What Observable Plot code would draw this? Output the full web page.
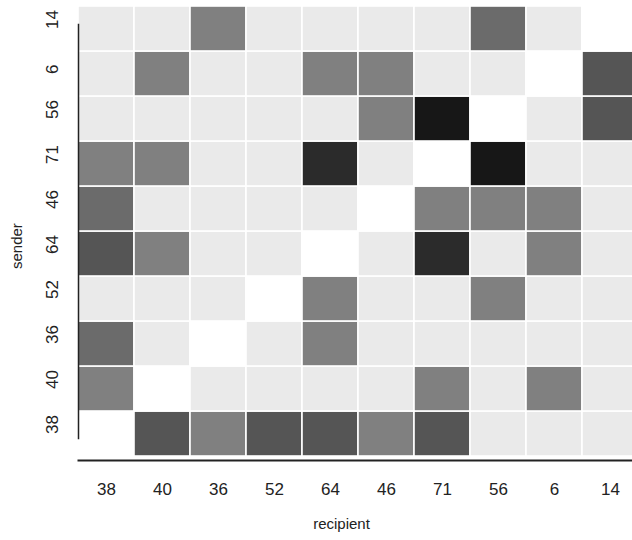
<!DOCTYPE html>
<html><head><meta charset="utf-8">
<script src="https://cdn.jsdelivr.net/npm/d3@7"></script>
<script src="https://cdn.jsdelivr.net/npm/@observablehq/plot@0.6"></script>
<style>html,body{margin:0;padding:0;overflow:hidden;background:#fff;} svg{max-width:none !important;}</style>
</head><body><div id="chart"></div>
<script>
// recipient (x) categories, left to right
const recipients = ["38","40","36","52","64","46","71","56","6","14"];
// sender (y) categories, bottom to top
const senders = ["38","40","36","52","64","46","71","56","6","14"];
// intensity level per sender row (columns follow recipients); null = self (diagonal)
const row38 = [null,3,1,3,3,1,3,0,0,0];
const row40 = [1,null,0,0,0,0,1,0,1,0];
const row36 = [2,0,null,0,1,0,0,0,0,0];
const row52 = [0,0,0,null,1,0,0,1,0,0];
const row64 = [3,1,0,0,null,0,4,0,1,0];
const row46 = [2,0,0,0,0,null,1,1,1,0];
const row71 = [1,1,0,0,4,0,null,5,0,0];
const row56 = [0,0,0,0,0,1,5,null,0,3];
const row6  = [0,1,0,0,1,1,0,0,null,3];
const row14 = [0,0,1,0,0,0,0,2,0,null];
const rows = [row38,row40,row36,row52,row64,row46,row71,row56,row6,row14];

const levels = [-1,0,1,2,3,4,5];
const grays = ["#ffffff","#eaeaea","#808080","#6b6b6b","#555555","#2b2b2b","#171717"];

const cells = [];
senders.forEach((s, i) => recipients.forEach((r, j) => {
  const v = rows[i][j];
  cells.push({sender: s, recipient: r, level: v == null ? -1 : v});
}));

const font = "'Liberation Sans', Arial, sans-serif";
const plot = Plot.plot({
  width: 640, height: 540,
  marginLeft: 78, marginRight: 2, marginTop: 1, marginBottom: 80,
  style: {fontFamily: font, background: "white", color: "#222", maxWidth: "none"},
  x: {domain: recipients, padding: 0, label: null},
  y: {domain: senders.slice().reverse(), padding: 0, label: null, axis: null},
  color: {type: "ordinal", domain: levels, range: grays},
  marks: [
    Plot.cell(cells, {x: "recipient", y: "sender", fill: "level", stroke: "white", strokeWidth: 1.6, inset: 0}),
    Plot.frame({anchor: "left", insetTop: 23, insetBottom: 22, stroke: "#222", strokeWidth: 1.5}),
    Plot.frame({anchor: "bottom", stroke: "#222", strokeWidth: 2}),
    Plot.axisX({tickSize: 0, tickPadding: 22, fontSize: 17, fill: "#222", label: null}),
    Plot.text(senders, {y: d => d, frameAnchor: "left", dx: -26, rotate: -90, fontSize: 17, fill: "#222"}),
    Plot.text(["sender"], {frameAnchor: "left", dx: -61.5, dy: 38, rotate: -90, fontSize: 15, fill: "#222"}),
    Plot.text(["recipient"], {frameAnchor: "bottom", dx: -17, dy: 68, fontSize: 15, fill: "#222"})
  ]
});
document.getElementById("chart").appendChild(plot);
</script>
</body></html>
